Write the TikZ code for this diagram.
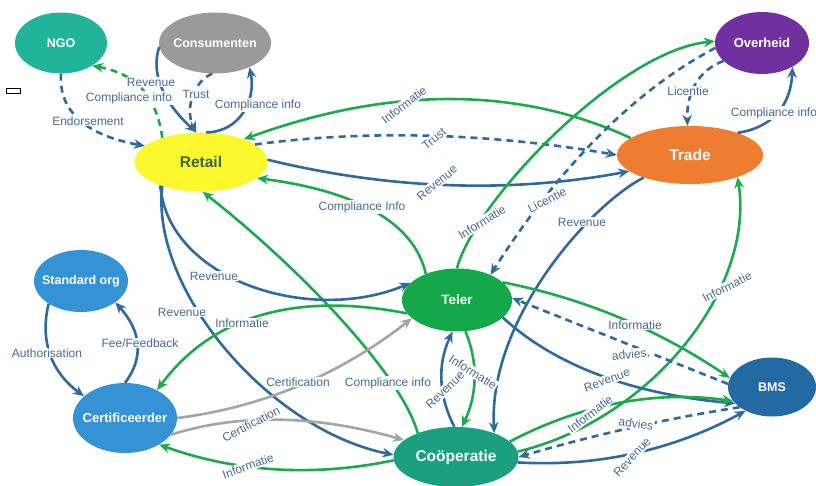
\documentclass[tikz,border=0pt]{standalone}
\usepackage{fontspec}
\setmainfont{Liberation Sans}
\usetikzlibrary{shapes.geometric,arrows.meta}
\definecolor{eblue}{RGB}{46,106,158}
\definecolor{egreen}{RGB}{29,170,76}
\definecolor{egray}{RGB}{165,165,165}
\definecolor{lblc}{RGB}{72,105,148}
\definecolor{cngo}{RGB}{33,180,155}
\definecolor{ccons}{RGB}{154,154,154}
\definecolor{cretail}{RGB}{250,248,45}
\definecolor{cretailtxt}{RGB}{60,100,55}
\definecolor{cover}{RGB}{112,48,160}
\definecolor{ctrade}{RGB}{238,125,50}
\definecolor{cstd}{RGB}{52,146,213}
\definecolor{cteler}{RGB}{20,168,74}
\definecolor{cbms}{RGB}{35,106,163}
\definecolor{ccoop}{RGB}{26,160,128}
\newcommand\nodetxt[1]{\makebox[0pt]{#1}}
\begin{document}
\begin{tikzpicture}[x=1pt,y=-1pt,
  ell/.style={ellipse, inner sep=0pt, text=white, font=\bfseries\fontsize{12.5}{14}\selectfont},
  tip/.style={-{Stealth[length=11pt,width=9.5pt]}},
  bl/.style={draw=eblue, line width=2.6pt, tip},
  gr/.style={draw=egreen, line width=2.6pt, tip},
  gy/.style={draw=egray, line width=2.6pt, tip},
  dsh/.style={dash pattern=on 7pt off 5pt},
  lbl/.style={fill=white, text=lblc, font=\fontsize{12}{14}\selectfont, inner sep=1pt}]
\useasboundingbox[fill=white] (0,0) rectangle (816,485);

% nodes
\node[ell, fill=cngo, minimum width=92pt, minimum height=61pt] (ngo) at (61,43) {\nodetxt{NGO}};
\node[ell, fill=ccons, minimum width=112pt, minimum height=61pt] (cons) at (215,43) {\nodetxt{Consumenten}};
\node[ell, fill=cretail, text=cretailtxt, font=\bfseries\fontsize{15.5}{18}\selectfont, minimum width=133pt, minimum height=59pt] (retail) at (201,162) {\nodetxt{Retail}};
\node[ell, fill=cover, font=\bfseries\fontsize{13}{15}\selectfont, minimum width=94pt, minimum height=62pt] (overheid) at (762,43) {\nodetxt{Overheid}};
\node[ell, fill=ctrade, font=\bfseries\fontsize{15.5}{18}\selectfont, minimum width=146pt, minimum height=58pt] (trade) at (690,155) {\nodetxt{Trade}};
\node[ell, fill=cstd, minimum width=94pt, minimum height=62pt] (std) at (81,281) {\nodetxt{Standard org}};
\node[ell, fill=cteler, font=\bfseries\fontsize{13.5}{16}\selectfont, minimum width=110pt, minimum height=63pt] (teler) at (457,300) {\nodetxt{Teler}};
\node[ell, fill=cstd, font=\bfseries\fontsize{13}{15}\selectfont, minimum width=104pt, minimum height=70pt] (cert) at (125,418) {\nodetxt{Certificeerder}};
\node[ell, fill=cbms, minimum width=88pt, minimum height=59pt] (bms) at (772,387) {\nodetxt{BMS}};
\node[ell, fill=ccoop, font=\bfseries\fontsize{15.5}{18}\selectfont, minimum width=125pt, minimum height=60pt] (coop) at (456,457) {\nodetxt{Coöperatie}};
\node[draw=black, line width=0.8pt, fill=white, minimum width=14pt, minimum height=5pt, inner sep=0pt] (box) at (13,91) {};

% connectors
\draw[bl,dsh] (ngo.270) .. controls (58.3,111.2) and (86.3,135.3) .. (retail.164);
\draw[gr,dsh] (retail.148) .. controls (155,85) and (125,72) .. (ngo.324);
\draw[bl] (cons.184) .. controls (150.5,73.1) and (163,101.7) .. (retail.99);
\draw[bl,dsh] (cons.265) .. controls (195,80) and (184,108) .. (retail.99);
\draw[bl] (retail.80) .. controls (240,132) and (256,100) .. (cons.325);
\draw[gr] (trade.164) .. controls (518,86) and (388.9,86.4) .. (retail.28);
\draw[bl,dsh] (retail.18) .. controls (367.6,129.5) and (488.3,133) .. (trade.180);
\draw[bl] (retail.2) .. controls (390.2,189.7) and (510.8,193.3) .. (trade.195);
\draw[gr] (teler.140) .. controls (414.4,223.3) and (358,191.3) .. (retail.344);
\draw[gr] (coop.148) .. controls (400,370) and (290,260) .. (retail.273);
\draw[bl] (retail.210) .. controls (168,280) and (310,325) .. (teler.160);
\draw[bl] (retail.212) .. controls (150,290) and (270,430) .. (coop.178);
\draw[gr] (teler.90) .. controls (475,200) and (620,50) .. (overheid.178);
\draw[bl,dsh] (overheid.186) .. controls (636.2,89.3) and (560.7,164.7) .. (teler.37);
\draw[bl,dsh] (overheid.205) .. controls (698.6,70.3) and (686.5,92) .. (trade.95);
\draw[bl] (trade.25) .. controls (772.4,127.6) and (790.8,105.6) .. (overheid.322);
\draw[bl] (trade.206) .. controls (590,205) and (488,320) .. (coop.32);
\draw[gr] (coop.5) .. controls (650,420) and (755,290) .. (trade.335);
\draw[gr] (teler.21) .. controls (583.3,298) and (659.1,329.8) .. (bms.168);
\draw[bl,dsh] (bms.176) -- (teler.2);
\draw[bl] (teler.339) .. controls (554.9,365.6) and (632.4,394.2) .. (bms.204);
\draw[gr] (coop.16) .. controls (582.2,403.6) and (656.8,390.1) .. (bms.200);
\draw[bl,dsh] (bms.212) .. controls (667.1,418.4) and (593.4,435) .. (coop.0);
\draw[bl] (coop.355) .. controls (598.1,467.1) and (673.9,449.8) .. (bms.222);
\draw[gr] (teler.285) .. controls (478.4,362.4) and (477.3,394.4) .. (coop.79);
\draw[bl] (coop.93) .. controls (438.1,395.7) and (437.5,363.8) .. (teler.262);
\draw[gr] (teler.195) .. controls (294.4,291.2) and (211,316.8) .. (cert.41);
\draw[gy] (cert.0) .. controls (262.7,407.3) and (341,374.1) .. (teler.202);
\draw[gy] (cert.340) .. controls (238.5,413.2) and (316.4,415) .. (coop.162);
\draw[gr] (coop.183) .. controls (313.7,477.2) and (235.5,472) .. (cert.322);
\draw[bl] (std.215) .. controls (39.6,341.2) and (51.4,372.1) .. (cert.152);
\draw[bl] (cert.90) .. controls (144.3,357.7) and (141,330.8) .. (std.328);

% labels
\node[lbl] (l1) at (88,121) {Endorsement};
\node[lbl] (l2) at (151,82) {Revenue};
\node[lbl] (l3) at (129,98) {Compliance info};
\node[lbl] (l4) at (196,94) {Trust};
\node[lbl] (l5) at (258,105) {Compliance info};
\node[lbl, rotate=38] (l6) at (404,105) {Informatie};
\node[lbl, rotate=40] (l7) at (434,139) {Trust};
\node[lbl, rotate=40] (l8) at (437,183) {Revenue};
\node[lbl] (l9) at (362,207) {Compliance Info};
\node[lbl, rotate=32] (l10) at (482,222) {Informatie};
\node[lbl, rotate=27] (l11) at (547,200) {Licentie};
\node[lbl] (l12) at (582,222) {Revenue};
\node[lbl] (l13) at (688,91) {Licentie};
\node[lbl] (l14) at (774,113) {Compliance info};
\node[lbl, rotate=27] (l15) at (727,287) {Informatie};
\node[lbl] (l16) at (635,325) {Informatie};
\node[lbl, rotate=6] (l17) at (631,355) {advies,};
\node[lbl, rotate=20] (l18) at (607,380) {Revenue};
\node[lbl, rotate=38] (l19) at (590,414) {Informatie};
\node[lbl, rotate=-8] (l20) at (636,424) {advies};
\node[lbl, rotate=47] (l21) at (632,457) {Revenue};
\node[lbl, rotate=-32] (l22) at (473,372) {Informatie};
\node[lbl, rotate=44] (l23) at (445,390) {Revenue};
\node[lbl] (l24) at (388,383) {Compliance info};
\node[lbl] (l25) at (298,382) {Certification};
\node[lbl] (l26) at (214,276) {Revenue};
\node[lbl] (l27) at (182,312) {Revenue};
\node[lbl] (l28) at (242,323) {Informatie};
\node[lbl] (l29) at (140,343) {Fee/Feedback};
\node[lbl] (l30) at (47,353) {Authorisation};
\node[lbl, rotate=28] (l31) at (251,424) {Certification};
\node[lbl, rotate=20] (l32) at (248,466) {Informatie};
\end{tikzpicture}
\end{document}
